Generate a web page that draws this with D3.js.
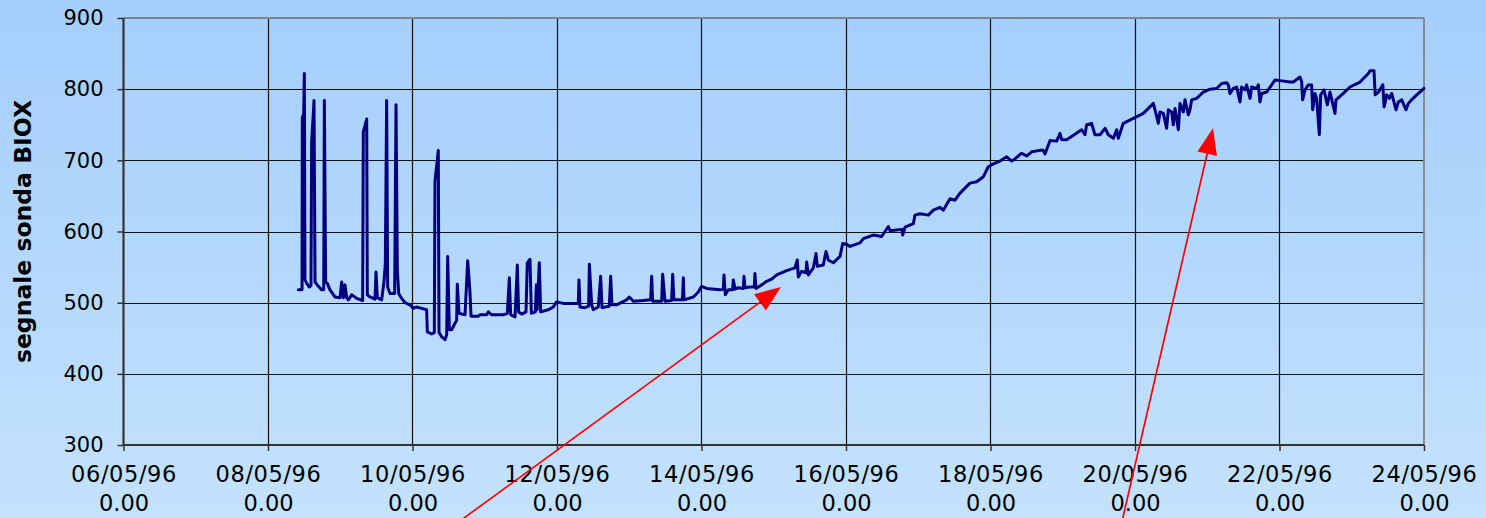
<!DOCTYPE html>
<html><head><meta charset="utf-8">
<script src="https://cdn.jsdelivr.net/npm/d3@7"></script>
<style>html,body{margin:0;padding:0;overflow:hidden;background:#b5d8fc;} svg{display:block;}</style>
</head><body><svg id="c" width="1486" height="518"></svg>
<script>
// ---- data ----
const tickDays = [6, 8, 10, 12, 14, 16, 18, 20, 22, 24];
const tickTimeLabel = "0.00";
const yTicks = [300, 400, 500, 600, 700, 800, 900];
const yTitle = "segnale sonda BIOX";

// sample times as day-of-month (May 1996, fractional) and BIOX probe signal
const sampleDays = [
  8.420, 8.471, 8.475, 8.494, 8.503, 8.512, 8.535, 8.572, 8.595, 8.604, 8.637, 8.651, 8.697, 8.743, 8.771, 8.780, 8.798, 8.821, 8.858, 8.927,
  8.997, 9.020, 9.043, 9.066, 9.089, 9.112, 9.158, 9.227, 9.310, 9.319, 9.338, 9.366, 9.375, 9.412, 9.481, 9.495, 9.513, 9.573, 9.606, 9.624,
  9.642, 9.656, 9.689, 9.753, 9.772, 9.790, 9.809, 9.850, 9.896, 9.965, 10.011, 10.058, 10.127, 10.196,
  10.205, 10.265, 10.302, 10.311, 10.357, 10.367, 10.404, 10.450, 10.473, 10.487, 10.510, 10.542, 10.588, 10.611, 10.620, 10.644, 10.727, 10.764,
  10.796, 10.810, 10.911, 10.934, 11.027, 11.050, 11.096, 11.257, 11.313, 11.340, 11.359, 11.419, 11.451, 11.469, 11.511, 11.571, 11.589, 11.626,
  11.645, 11.700, 11.715, 11.725, 11.755, 11.774, 11.880, 11.949, 11.995, 12.088, 12.226,
  12.295, 12.304, 12.318, 12.388, 12.438, 12.448, 12.480, 12.503, 12.572, 12.604, 12.623, 12.724, 12.743, 12.761, 12.826, 12.964, 13.001, 13.057,
  13.195, 13.296, 13.310, 13.324, 13.449, 13.462, 13.495, 13.587, 13.601, 13.619, 13.735, 13.749, 13.758, 13.887, 13.956, 14.002, 14.071, 14.256,
  14.302, 14.311, 14.330, 14.371, 14.431, 14.440, 14.464, 14.510, 14.579, 14.588, 14.602, 14.671, 14.731, 14.740, 14.754, 14.833, 14.902, 14.971,
  15.040, 15.179, 15.294, 15.326, 15.340, 15.386, 15.446, 15.456, 15.479, 15.548, 15.585, 15.603, 15.686, 15.723, 15.755, 15.824, 15.917, 15.954, 16.009,
  16.055, 16.194, 16.240, 16.378, 16.494, 16.586, 16.609, 16.771, 16.784, 16.817, 16.932, 16.955, 17.024, 17.140, 17.209, 17.301, 17.347, 17.439,
  17.509, 17.578, 17.647, 17.716, 17.809, 17.901, 17.970, 18.039, 18.131, 18.224, 18.293, 18.339, 18.431, 18.501, 18.570, 18.685,
  18.731, 18.754, 18.824, 18.916, 18.962, 18.985, 19.054, 19.262, 19.308, 19.331, 19.400, 19.446, 19.516, 19.585, 19.631, 19.700, 19.746, 19.769,
  19.838, 19.977, 20.115, 20.185, 20.254, 20.277, 20.323, 20.346, 20.392, 20.438, 20.461, 20.508, 20.530, 20.554, 20.600, 20.623, 20.669, 20.692,
  20.738, 20.761, 20.784, 20.853, 20.946, 21.038, 21.130, 21.200, 21.269, 21.292, 21.315, 21.361, 21.407, 21.453, 21.476, 21.522, 21.545, 21.592,
  21.615, 21.684, 21.707, 21.730, 21.753, 21.822, 21.892, 21.938, 22.007, 22.145,
  22.192, 22.284, 22.307, 22.320, 22.353, 22.399, 22.445, 22.459, 22.491, 22.514, 22.551, 22.570, 22.616, 22.662, 22.699, 22.768, 22.782, 22.883,
  22.976, 23.114, 23.230, 23.253, 23.308, 23.324, 23.370, 23.430, 23.448, 23.484, 23.521, 23.553, 23.613, 23.645, 23.692, 23.751, 23.783, 23.829,
  23.898, 23.945, 24.000
];
const biox = [
  518, 518, 760, 765, 822, 532, 527, 522, 524, 726, 784, 529, 523, 518, 518, 784, 529, 527, 518, 508,
  507, 529, 507, 525, 507, 504, 511, 506, 503, 740, 747, 758, 511, 508, 505, 543, 507, 504, 530, 556,
  784, 522, 513, 513, 778, 546, 513, 506, 500, 497, 492, 494, 492, 490,
  459, 456, 458, 670, 714, 458, 452, 448, 455, 565, 462, 462, 471, 475, 526, 485, 483, 559,
  514, 481, 481, 483, 483, 487, 483, 483, 485, 535, 483, 480, 553, 487, 484, 487, 556, 561,
  485, 487, 525, 490, 556, 487, 490, 494, 501, 499, 499,
  499, 532, 494, 493, 495, 554, 497, 490, 494, 537, 493, 495, 537, 497, 497, 504, 508, 502,
  503, 504, 537, 502, 502, 540, 502, 503, 540, 504, 504, 535, 504, 508, 515, 523, 520, 518,
  519, 539, 511, 518, 518, 532, 519, 521, 520, 537, 521, 522, 522, 541, 520, 525, 530, 533,
  539, 545, 549, 560, 536, 544, 542, 557, 539, 549, 569, 551, 553, 572, 560, 556, 565, 583, 582,
  579, 584, 590, 595, 593, 607, 601, 603, 595, 606, 611, 623, 625, 623, 630, 634, 630, 646,
  644, 654, 661, 668, 670, 677, 691, 695, 699, 705, 699, 702, 710, 706, 712, 714,
  714, 709, 728, 727, 738, 729, 729, 743, 736, 750, 752, 736, 736, 745, 736, 731, 743, 731,
  752, 759, 766, 773, 780, 771, 752, 768, 766, 745, 771, 768, 750, 773, 743, 780, 768, 785,
  764, 771, 785, 787, 796, 800, 801, 808, 809, 806, 794, 801, 803, 782, 803, 799, 806, 787,
  803, 801, 806, 782, 794, 796, 806, 813, 812, 810,
  810, 817, 810, 785, 799, 806, 806, 771, 794, 787, 736, 792, 799, 778, 796, 766, 785, 794,
  803, 810, 822, 826, 826, 792, 796, 806, 775, 792, 787, 794, 771, 782, 785, 771, 780, 785,
  792, 796, 801
];

// annotation arrows: [tail day, tail value] -> [head day, head value]
const arrowTails = [[10.68, 195], [19.83, 197]];
const arrowHeads = [[15.10, 522], [21.08, 745]];

// ---- chart ----
const W = 1486, H = 518;
const pLeft = 123.5, pRight = 1424, pTop = 18, pBottom = 445;
const dayToDate = d => new Date(Date.UTC(1996, 4, 1) + (d - 1) * 864e5);

const x = d3.scaleUtc().domain([dayToDate(6), dayToDate(24)]).range([pLeft, pRight]);
const y = d3.scaleLinear().domain([300, 900]).range([pBottom, pTop]);

const svg = d3.select("#c");
const defs = svg.append("defs");
const grad = defs.append("linearGradient").attr("id", "bg").attr("x1", 0).attr("y1", 0).attr("x2", 0).attr("y2", 1);
grad.append("stop").attr("offset", "0%").attr("stop-color", "#a4cefc");
grad.append("stop").attr("offset", "100%").attr("stop-color", "#c4e2fd");
svg.append("rect").attr("width", W).attr("height", H).attr("fill", "url(#bg)");

// horizontal gridlines
svg.append("g").selectAll("line").data(yTicks.slice(1, -1)).join("line")
  .attr("x1", pLeft).attr("x2", pRight)
  .attr("y1", d => Math.round(y(d)) + 0.5).attr("y2", d => Math.round(y(d)) + 0.5)
  .attr("stroke", "#111").attr("stroke-width", 1.2);
// vertical gridlines
svg.append("g").selectAll("line").data(tickDays.slice(1, -1)).join("line")
  .attr("x1", d => Math.round(x(dayToDate(d))) + 0.5).attr("x2", d => Math.round(x(dayToDate(d))) + 0.5)
  .attr("y1", pTop).attr("y2", pBottom)
  .attr("stroke", "#111").attr("stroke-width", 1.2);
// top & right border (grey)
svg.append("line").attr("x1", pLeft).attr("x2", pRight).attr("y1", y(900)).attr("y2", y(900))
  .attr("stroke", "#7d8590").attr("stroke-width", 2);
svg.append("line").attr("x1", pRight).attr("x2", pRight).attr("y1", pTop).attr("y2", pBottom)
  .attr("stroke", "#858b92").attr("stroke-width", 2);

// data line
const pts = sampleDays.map((d, i) => [dayToDate(d), biox[i]]);
svg.append("path").datum(pts)
  .attr("fill", "none").attr("stroke", "#00007e").attr("stroke-width", 3)
  .attr("stroke-linejoin", "round").attr("stroke-linecap", "round")
  .attr("d", d3.line().x(p => x(p[0])).y(p => y(p[1])));

// axes
const fontFam = "'DejaVu Sans', sans-serif";
const yAxis = svg.append("g").attr("transform", `translate(${pLeft},0)`)
  .call(d3.axisLeft(y).tickValues(yTicks).tickSize(6).tickPadding(14).tickFormat(d3.format("d")));
yAxis.select(".domain").attr("stroke", "#333").attr("stroke-width", 2.2).attr("d", `M0,${pTop}V${pBottom}`);
yAxis.selectAll(".tick line").attr("stroke", "#333").attr("stroke-width", 1.5);
yAxis.selectAll("text").attr("font-family", fontFam).attr("font-size", 21).attr("fill", "#000");

const xAxis = svg.append("g").attr("transform", `translate(0,${pBottom})`)
  .call(d3.axisBottom(x).tickValues(tickDays.map(dayToDate)).tickSize(6).tickFormat(d3.utcFormat("%d/%m/%y")));
xAxis.select(".domain").attr("stroke", "#333").attr("stroke-width", 2.2).attr("d", `M${pLeft},0H${pRight}`);
xAxis.selectAll(".tick line").attr("stroke", "#333").attr("stroke-width", 1.5);
xAxis.selectAll(".tick text").each(function (d) {
  const t = d3.select(this);
  const lbl = d3.utcFormat("%d/%m/%y")(d);
  t.text(null).attr("y", null).attr("dy", null)
    .attr("font-family", fontFam).attr("font-size", 22.5).attr("fill", "#000");
  t.append("tspan").attr("x", 0).attr("y", 37).attr("letter-spacing", 0.6).text(lbl);
  t.append("tspan").attr("x", 0).attr("y", 66).text(tickTimeLabel);
});

// y title
svg.append("text")
  .attr("transform", `translate(31,${(pTop + pBottom) / 2}) rotate(-90)`)
  .attr("text-anchor", "middle")
  .attr("font-family", fontFam).attr("font-weight", "bold").attr("font-size", 23.5)
  .attr("fill", "#000").text(yTitle);

// red annotation arrows
const ag = svg.append("g");
arrowTails.forEach((t, i) => {
  const x0 = x(dayToDate(t[0])), y0 = y(t[1]);
  const x1 = x(dayToDate(arrowHeads[i][0])), y1 = y(arrowHeads[i][1]);
  const dx = x1 - x0, dy = y1 - y0, len = Math.hypot(dx, dy);
  const ux = dx / len, uy = dy / len, L = 26, hw = 10;
  const bx = x1 - ux * L, by = y1 - uy * L;
  ag.append("line").attr("x1", x0).attr("y1", y0).attr("x2", bx + ux * 2).attr("y2", by + uy * 2)
    .attr("stroke", "#ff0000").attr("stroke-width", 1.7);
  ag.append("path")
    .attr("d", `M${x1},${y1}L${bx - uy * hw},${by + ux * hw}L${bx + uy * hw},${by - ux * hw}Z`)
    .attr("fill", "#ff0000");
});
</script></body></html>
